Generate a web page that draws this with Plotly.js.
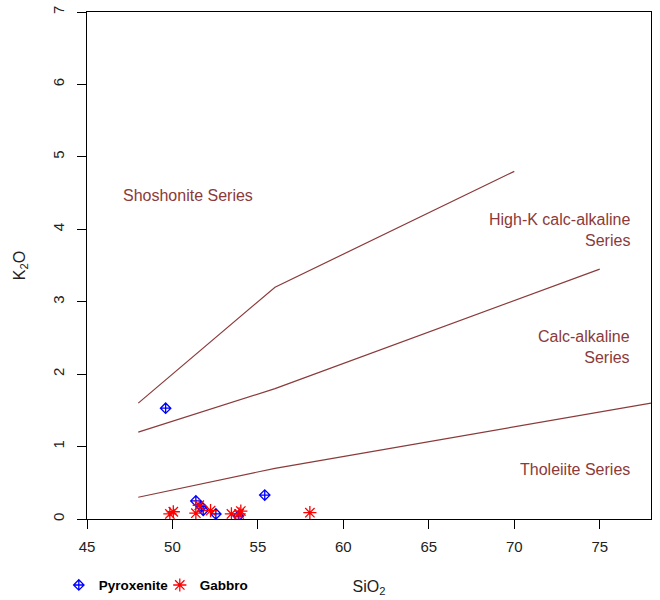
<!DOCTYPE html>
<html>
<head>
<meta charset="utf-8">
<script src="https://cdn.plot.ly/plotly-3.0.1.min.js"></script>
<style>html,body{margin:0;padding:0;background:#fff;}#chart{width:660px;height:600px;}</style>
</head>
<body>
<div id="chart"></div>
<script>
// Pyroxenite samples
var pyroxSiO2 = [49.6, 51.37, 51.7, 51.8, 52.54, 53.85, 55.4];
var pyroxK2O  = [1.53, 0.25, 0.17, 0.12, 0.07, 0.04, 0.33];
// Gabbro samples
var gabbroSiO2 = [49.85, 50.05, 51.37, 51.57, 52.23, 53.45, 53.9, 54.0, 58.04];
var gabbroK2O  = [0.07, 0.10, 0.08, 0.19, 0.115, 0.07, 0.07, 0.11, 0.087];
// Series boundary lines (SiO2, K2O)
var shoshoniteX = [48, 56, 70];
var shoshoniteY = [1.6, 3.2, 4.8];
var highKX = [48, 56, 75];
var highKY = [1.2, 1.8, 3.45];
var tholeiiteX = [48, 56, 78];
var tholeiiteY = [0.3, 0.7, 1.6];
// Field labels
var fieldLabels = ["Shoshonite Series", "High-K calc-alkaline<br>Series", "Calc-alkaline<br>Series", "Tholeiite Series"];
var fieldX = [47.0, 76.9, 76.9, 76.9];
var fieldY = [4.47, 3.99, 2.38, 0.69];
var fieldAnchor = ["left", "right", "right", "right"];
var xTicks = [45, 50, 55, 60, 65, 70, 75];
var yTicks = [0, 1, 2, 3, 4, 5, 6, 7];

var lineColor = "#8b3a3a";
var fam = "Liberation Sans, Arial, sans-serif";
function bLine(x, y) {
  return {x: x, y: y, mode: "lines", type: "scatter", showlegend: false, hoverinfo: "skip",
    line: {color: lineColor, width: 1.2}};
}
var traces = [
  bLine(shoshoniteX, shoshoniteY),
  bLine(highKX, highKY),
  bLine(tholeiiteX, tholeiiteY),
  {x: pyroxSiO2, y: pyroxK2O, name: "Pyroxenite", mode: "markers", type: "scatter",
    marker: {symbol: "diamond-cross-open", size: 8, color: "#0000ff", line: {color: "#0000ff", width: 1.3}}},
  {x: gabbroSiO2, y: gabbroK2O, name: "Gabbro", mode: "markers", type: "scatter",
    marker: {symbol: "asterisk-open", size: 11, color: "#ff0000", line: {color: "#ff0000", width: 1.3}}}
];

var annotations = fieldLabels.map(function (t, i) {
  return {x: fieldX[i], y: fieldY[i], xref: "x", yref: "y", text: t, showarrow: false,
    xanchor: fieldAnchor[i], yanchor: "middle", align: "right",
    font: {family: fam, size: 16, color: lineColor}};
});

var layout = {
  width: 660, height: 600,
  margin: {l: 87, r: 9, t: 12, b: 81, autoexpand: false},
  paper_bgcolor: "#fff", plot_bgcolor: "#fff",
  font: {family: fam, size: 15, color: "#222"},
  xaxis: {range: [45, 78], tickvals: xTicks, ticks: "outside", ticklen: 9, tickcolor: "#000",
    showline: true, linecolor: "#000", linewidth: 1.3, mirror: true, showgrid: false, zeroline: false,
    ticklabelstandoff: 5, automargin: false,
    title: {text: "SiO<sub>2</sub>", font: {size: 16}, standoff: 26}},
  yaxis: {range: [0, 7], tickvals: yTicks, ticks: "outside", ticklen: 9, tickcolor: "#000", tickangle: -90,
    showline: true, linecolor: "#000", linewidth: 1.3, mirror: true, showgrid: false, zeroline: false,
    ticklabelstandoff: 7, automargin: false,
    title: {text: "K<sub>2</sub>O", font: {size: 16}, standoff: 20}},
  showlegend: true,
  legend: {orientation: "h", x: -0.05, xanchor: "left", y: -0.1, yanchor: "top",
    font: {size: 13.5, family: fam, weight: "bold", color: "#000"},
    itemwidth: 30, entrywidth: 56, entrywidthmode: "pixels", tracegroupgap: 0, bgcolor: "rgba(0,0,0,0)"},
  annotations: annotations
};
Plotly.newPlot("chart", traces, layout, {displayModeBar: false, staticPlot: true});
</script>
</body>
</html>
